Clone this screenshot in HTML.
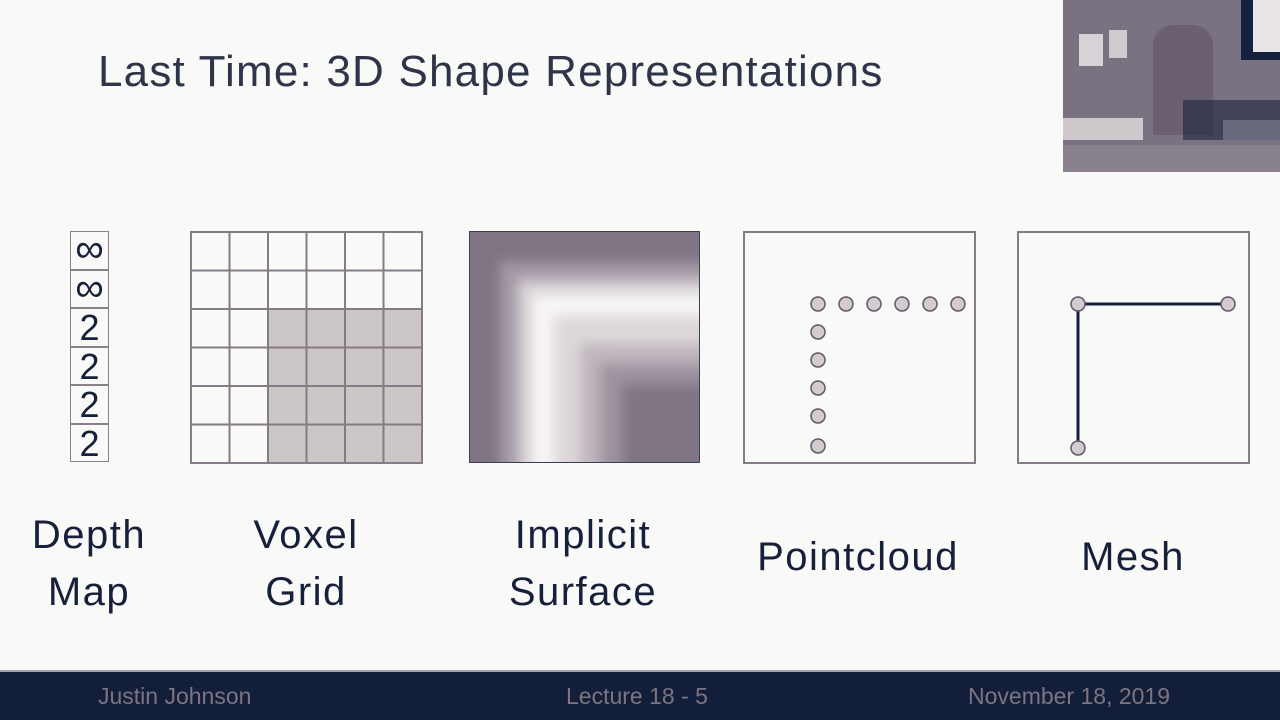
<!DOCTYPE html>
<html><head><meta charset="utf-8"><style>
body{margin:0;width:1280px;height:720px;background:#f9f9f7;position:relative;overflow:hidden;font-family:"Liberation Sans","DejaVu Sans",sans-serif;}
.a{position:absolute}
.title{left:98px;top:47px;font-size:44px;letter-spacing:1.2px;color:#2f3548;white-space:nowrap}
.lbl{position:absolute;font-size:40px;letter-spacing:1.5px;color:#16203a;text-align:center;line-height:57px;width:240px}
.dc{position:absolute;left:70px;width:37px;height:36.5px;border:1.5px solid #8a808a;font-size:36px;color:#16203a;text-align:center;line-height:38px}
.inf{font-size:40px;line-height:34px}
</style></head><body>
<div class="a title">Last Time: 3D Shape Representations</div>

<!-- webcam -->
<div class="a" style="left:1063px;top:0;width:217px;height:172px;background:#7b7281;overflow:hidden">
 <div class="a" style="left:178px;top:0;width:39px;height:60px;background:#132040"></div>
 <div class="a" style="left:190px;top:0;width:27px;height:52px;background:#e8e4e6"></div>
 <div class="a" style="left:16px;top:34px;width:24px;height:32px;background:#d8d2d6"></div>
 <div class="a" style="left:46px;top:30px;width:18px;height:28px;background:#d0cad0"></div>
 <div class="a" style="left:90px;top:25px;width:60px;height:110px;background:#6b6070;border-radius:20px 20px 0 0"></div>
 <div class="a" style="left:0;top:118px;width:80px;height:22px;background:#cfc8cc"></div>
 <div class="a" style="left:160px;top:120px;width:57px;height:20px;background:#d8d2d6"></div>
 <div class="a" style="left:120px;top:100px;width:97px;height:40px;background:#1a2440;opacity:.6"></div>
 <div class="a" style="left:0;top:145px;width:217px;height:27px;background:#8a818e"></div>
</div>

<!-- depth map -->
<div class="dc inf" style="top:231px">∞</div>
<div class="dc inf" style="top:269.5px">∞</div>
<div class="dc" style="top:308px">2</div>
<div class="dc" style="top:346.5px">2</div>
<div class="dc" style="top:385px">2</div>
<div class="dc" style="top:423.5px">2</div>

<svg class="a" style="left:0;top:0" width="1280" height="720">
 <rect x="268" y="309" width="154" height="154" fill="#cdc6c7"/>
 <g stroke="#857b86" stroke-width="2" fill="none">
  <rect x="191" y="232" width="231" height="231"/>
  <line x1="229.5" y1="232" x2="229.5" y2="463"/><line x1="268" y1="232" x2="268" y2="463"/>
  <line x1="306.5" y1="232" x2="306.5" y2="463"/><line x1="345" y1="232" x2="345" y2="463"/>
  <line x1="383.5" y1="232" x2="383.5" y2="463"/>
  <line x1="191" y1="270.5" x2="422" y2="270.5"/><line x1="191" y1="309" x2="422" y2="309"/>
  <line x1="191" y1="347.5" x2="422" y2="347.5"/><line x1="191" y1="386" x2="422" y2="386"/>
  <line x1="191" y1="424.5" x2="422" y2="424.5"/>
 </g>
 <rect x="744" y="232" width="231" height="231" fill="none" stroke="#857b86" stroke-width="2"/>
 <g fill="#d2cccf" stroke="#5f5668" stroke-width="1.5">
  <circle cx="818" cy="304" r="7"/><circle cx="846" cy="304" r="7"/><circle cx="874" cy="304" r="7"/>
  <circle cx="902" cy="304" r="7"/><circle cx="930" cy="304" r="7"/><circle cx="958" cy="304" r="7"/>
  <circle cx="818" cy="332" r="7"/><circle cx="818" cy="360" r="7"/><circle cx="818" cy="388" r="7"/>
  <circle cx="818" cy="416" r="7"/><circle cx="818" cy="446" r="7"/>
 </g>
 <rect x="1018" y="232" width="231" height="231" fill="none" stroke="#857b86" stroke-width="2"/>
 <polyline points="1228,304 1078,304 1078,448" fill="none" stroke="#16203a" stroke-width="3"/>
 <g fill="#d2cccf" stroke="#5f5668" stroke-width="1.5">
  <circle cx="1078" cy="304" r="7"/><circle cx="1228" cy="304" r="7"/><circle cx="1078" cy="448" r="7"/>
 </g>
</svg>

<div class="a" style="left:469px;top:231px;width:231px;height:232px;background:#7f7583;overflow:hidden;border:1px solid #3a3f55;box-sizing:border-box">
 <div style="position:absolute;inset:0;filter:blur(6px)">
  <div class="a" style="left:30px;top:30px;width:220px;height:220px;background:#a49aa6"></div>
  <div class="a" style="left:48px;top:48px;width:200px;height:200px;background:#d9d3d6"></div>
  <div class="a" style="left:62px;top:62px;width:190px;height:190px;background:#f7f5f5"></div>
  <div class="a" style="left:84px;top:84px;width:170px;height:170px;background:#ddd7da"></div>
  <div class="a" style="left:110px;top:112px;width:150px;height:150px;background:#bfb7bd"></div>
  <div class="a" style="left:130px;top:132px;width:130px;height:130px;background:#9d93a0"></div>
  <div class="a" style="left:152px;top:152px;width:100px;height:100px;background:#7f7583"></div>
 </div>
</div>

<div class="lbl" style="left:-31px;top:507px">Depth<br>Map</div>
<div class="lbl" style="left:186px;top:507px">Voxel<br>Grid</div>
<div class="lbl" style="left:463px;top:507px">Implicit<br>Surface</div>
<div class="lbl" style="left:738px;top:529px">Pointcloud</div>
<div class="lbl" style="left:1013px;top:529px">Mesh</div>

<div class="a" style="left:0;top:670px;width:1280px;height:2px;background:#a9a1a9"></div>
<div class="a" style="left:0;top:672px;width:1280px;height:48px;background:#131f3a;color:#7d7482;font-size:23px">
 <span class="a" style="left:98px;top:11px">Justin Johnson</span>
 <span class="a" style="left:566px;top:11px">Lecture 18 - 5</span>
 <span class="a" style="left:968px;top:11px">November 18, 2019</span>
</div>
</body></html>
